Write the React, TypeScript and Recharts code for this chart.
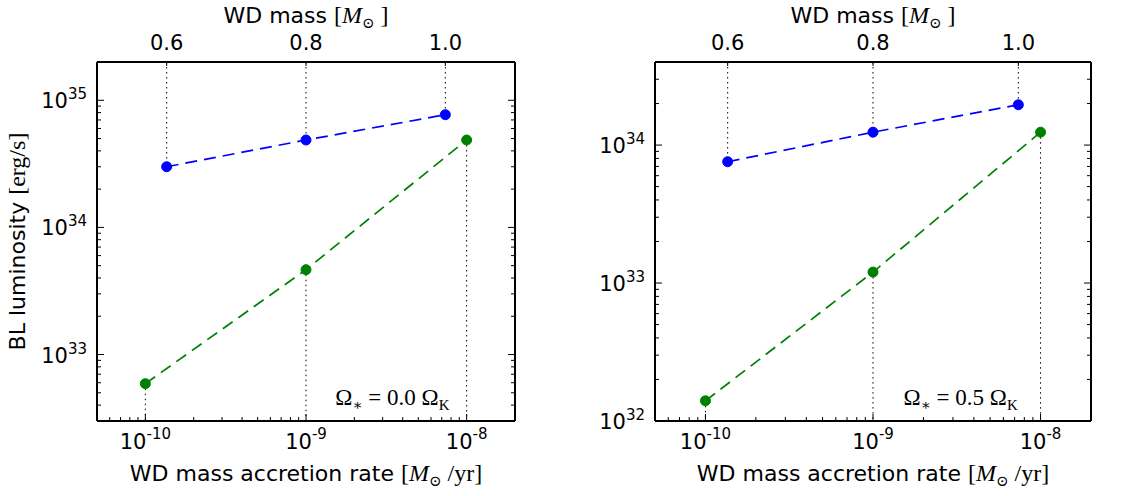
import React from 'react';
import { ComposedChart, Line, XAxis, YAxis, ReferenceLine, ReferenceArea } from 'recharts';

// WD masses (top axis) and accretion rates (bottom axis)
const massTicks = [0.6, 0.8, 1.0];
const rateTicks = [1e-10, 1e-9, 1e-8];

// BL luminosity [erg/s]
const lumA_mass = [3.0e34, 4.87e34, 7.7e34]; // blue, vs WD mass, Omega = 0.0
const lumA_rate = [5.9e32, 4.65e33, 4.87e34]; // green, vs accretion rate
const lumB_mass = [7.57e33, 1.24e34, 1.96e34]; // blue, Omega = 0.5
const lumB_rate = [1.4e32, 1.2e33, 1.24e34]; // green

const rateDomain = [5e-11, 2e-8];
const massDomain = [0.5, 1.1];
const yDomainA = [3e32, 2e35];
const yDomainB = [1e32, 4e34];
const omegaA = '0.0';
const omegaB = '0.5';

const SANS = "'DejaVu Sans', sans-serif";
const MATH = "'Liberation Serif', 'DejaVu Serif', serif";
const FS = 21;
const LABEL_FS = 22;
const MATH_FS = 24;
const SUP = 15;
const MAJOR = 7;
const MINOR = 4;
const LEFT_GAP = 10;
const TOP_GAP = 12;

const isDecade = (v: number) => Math.abs(Math.log10(v) - Math.round(Math.log10(v))) < 1e-6;

// decade + 2..9 minor ticks strictly inside the domain
function logTicks(domain: number[]) {
  const out: number[] = [];
  const lo = Math.floor(Math.log10(domain[0]));
  const hi = Math.ceil(Math.log10(domain[1]));
  for (let e = lo; e <= hi; e++) {
    for (let m = 1; m < 10; m++) {
      const v = Number((m * Math.pow(10, e)).toPrecision(6));
      if (v >= domain[0] * 0.999 && v < domain[1] * 0.999) out.push(v);
    }
  }
  return out;
}

const LeftTick = (props: any) => {
  const { x, y, payload } = props;
  const edge = x + LEFT_GAP;
  const major = isDecade(payload.value);
  const e = Math.round(Math.log10(payload.value));
  return (
    <g>
      <line x1={edge} x2={edge + (major ? MAJOR : MINOR)} y1={y} y2={y} stroke="#000" strokeWidth={1} />
      {major && (
        <text x={x} y={y + 8} textAnchor="end" fontFamily={SANS} fontSize={FS} fill="#000">
          10<tspan dy={-9} fontSize={SUP}>{e}</tspan>
        </text>
      )}
    </g>
  );
};

const RightTick = (props: any) => {
  const { x, y, payload } = props;
  const major = isDecade(payload.value);
  return <line x1={x} x2={x - (major ? MAJOR : MINOR)} y1={y} y2={y} stroke="#000" strokeWidth={1} />;
};

const BottomTick = (props: any) => {
  const { x, y, payload } = props;
  const major = isDecade(payload.value);
  const e = Math.round(Math.log10(payload.value));
  return (
    <g>
      <line x1={x} x2={x} y1={y} y2={y - (major ? MAJOR : MINOR)} stroke="#000" strokeWidth={1} />
      {major && (
        <text x={x} y={y + 28} textAnchor="middle" fontFamily={SANS} fontSize={FS} fill="#000">
          10<tspan dy={-10} fontSize={SUP}>{e}</tspan>
        </text>
      )}
    </g>
  );
};

const TopTick = (props: any) => {
  const { x, y, payload } = props;
  const edge = y + TOP_GAP;
  return (
    <g>
      <line x1={x} x2={x} y1={edge} y2={edge + 4} stroke="#000" strokeWidth={1} />
      <text x={x} y={y} textAnchor="middle" fontFamily={SANS} fontSize={FS} fill="#000">
        {payload.value.toFixed(1)}
      </text>
    </g>
  );
};

const Msun = ({ rest }: { rest: string }) => (
  <>
    <tspan fontFamily={MATH} fontSize={MATH_FS}>[</tspan>
    <tspan fontFamily={MATH} fontSize={MATH_FS} fontStyle="italic">M</tspan>
    <tspan fontFamily={MATH} fontSize={15} dy={5}>⊙</tspan>
    <tspan fontFamily={MATH} fontSize={MATH_FS} dy={-5}>{rest}</tspan>
  </>
);

const BottomLabel = (props: any) => {
  const vb = props.viewBox;
  return (
    <text x={vb.x + vb.width / 2} y={vb.y + 60} textAnchor="middle" fontFamily={SANS} fontSize={LABEL_FS} fill="#000">
      {'WD mass accretion rate '}
      <Msun rest=" /yr]" />
    </text>
  );
};

const TopLabel = (props: any) => {
  const vb = props.viewBox;
  return (
    <text x={vb.x + vb.width / 2} y={vb.y + 23} textAnchor="middle" fontFamily={SANS} fontSize={LABEL_FS} fill="#000">
      {'WD mass '}
      <Msun rest=" ]" />
    </text>
  );
};

const YLabel = (props: any) => {
  const vb = props.viewBox;
  const cx = 25;
  const cy = vb.y + vb.height / 2;
  return (
    <text x={cx} y={cy} transform={`rotate(-90 ${cx} ${cy})`} textAnchor="middle" fontFamily={SANS} fontSize={LABEL_FS} fill="#000">
      {'BL luminosity '}
      <tspan fontFamily={MATH} fontSize={MATH_FS}>[erg/s]</tspan>
    </text>
  );
};

const OmegaLabel = ({ omega }: { omega: string }) => (props: any) => {
  const vb = props.viewBox;
  return (
    <text x={vb.x + vb.width * 0.57} y={vb.y + vb.height - 16} fontFamily={MATH} fontSize={23} fill="#000">
      Ω<tspan fontSize={15} dy={5}>∗</tspan>
      <tspan dy={-5}>{` = ${omega} Ω`}</tspan>
      <tspan fontSize={15} dy={5}>K</tspan>
    </text>
  );
};

interface PanelProps {
  left: number;
  width: number;
  yWidth: number;
  rightMargin: number;
  yDomain: number[];
  lumMass: number[];
  lumRate: number[];
  omega: string;
  showYLabel: boolean;
}

function Panel({ left, width, yWidth, rightMargin, yDomain, lumMass, lumRate, omega, showYLabel }: PanelProps) {
  const blue = massTicks.map((m, i) => ({ x: m, y: lumMass[i] }));
  const green = rateTicks.map((r, i) => ({ x: r, y: lumRate[i] }));
  const yTicks = logTicks(yDomain);
  const xTicks = logTicks(rateDomain);
  const frame = { stroke: '#000', strokeWidth: 2 };

  return (
    <div style={{ position: 'absolute', left, top: 0 }}>
      <ComposedChart width={width} height={496} margin={{ top: 0, right: rightMargin, bottom: 0, left: 0 }}>
        <XAxis
          xAxisId="rate"
          dataKey="x"
          type="number"
          scale="log"
          domain={rateDomain}
          allowDataOverflow
          ticks={xTicks}
          interval={0}
          tickSize={0}
          tickMargin={0}
          tickLine={false}
          tick={<BottomTick />}
          axisLine={frame}
          height={75}
          label={{ content: BottomLabel }}
        />
        <XAxis
          xAxisId="mass"
          orientation="top"
          dataKey="x"
          type="number"
          domain={massDomain}
          allowDataOverflow
          ticks={massTicks}
          interval={0}
          tickSize={0}
          tickMargin={TOP_GAP}
          tickLine={false}
          tick={<TopTick />}
          axisLine={frame}
          height={62}
          label={{ content: TopLabel }}
        />
        <YAxis
          yAxisId="L"
          type="number"
          scale="log"
          domain={yDomain}
          allowDataOverflow
          ticks={yTicks}
          interval={0}
          tickSize={0}
          tickMargin={LEFT_GAP}
          tickLine={false}
          tick={<LeftTick />}
          axisLine={frame}
          width={yWidth}
          label={showYLabel ? { content: YLabel } : undefined}
        />
        <YAxis
          yAxisId="R"
          orientation="right"
          type="number"
          scale="log"
          domain={yDomain}
          allowDataOverflow
          ticks={yTicks}
          interval={0}
          tickSize={0}
          tickMargin={0}
          tickLine={false}
          tick={<RightTick />}
          axisLine={frame}
          width={1}
        />
        {blue.map((p) => (
          <ReferenceLine
            key={`b${p.x}`}
            xAxisId="mass"
            yAxisId="L"
            segment={[{ x: p.x, y: yDomain[1] }, { x: p.x, y: p.y }]}
            stroke="#000"
            strokeWidth={1}
            strokeDasharray="1.5 3.5"
          />
        ))}
        {green.map((p) => (
          <ReferenceLine
            key={`g${p.x}`}
            xAxisId="rate"
            yAxisId="L"
            segment={[{ x: p.x, y: p.y }, { x: p.x, y: yDomain[0] }]}
            stroke="#000"
            strokeWidth={1}
            strokeDasharray="1.5 3.5"
          />
        ))}
        <ReferenceArea
          xAxisId="rate"
          yAxisId="L"
          x1={rateDomain[0]}
          x2={rateDomain[1]}
          y1={yDomain[0]}
          y2={yDomain[1]}
          fill="none"
          stroke="none"
          label={{ content: OmegaLabel({ omega }) }}
        />
        <Line
          data={blue}
          xAxisId="mass"
          yAxisId="L"
          dataKey="y"
          stroke="#0000ff"
          strokeWidth={1.7}
          strokeDasharray="12 7"
          dot={{ r: 5, fill: '#0000ff', stroke: '#0000ff', strokeWidth: 1, strokeDasharray: '' }}
          isAnimationActive={false}
        />
        <Line
          data={green}
          xAxisId="rate"
          yAxisId="L"
          dataKey="y"
          stroke="#008000"
          strokeWidth={1.7}
          strokeDasharray="12 7"
          dot={{ r: 5, fill: '#008000', stroke: '#008000', strokeWidth: 1, strokeDasharray: '' }}
          isAnimationActive={false}
        />
      </ComposedChart>
    </div>
  );
}

export default function App() {
  return (
    <div style={{ position: 'absolute', left: 0, top: 0, width: 1126, height: 496, background: '#fff' }}>
      <Panel left={0} width={560} yWidth={97} rightMargin={44} yDomain={yDomainA} lumMass={lumA_mass} lumRate={lumA_rate} omega={omegaA} showYLabel />
      <Panel left={566} width={560} yWidth={89} rightMargin={34} yDomain={yDomainB} lumMass={lumB_mass} lumRate={lumB_rate} omega={omegaB} showYLabel={false} />
    </div>
  );
}
